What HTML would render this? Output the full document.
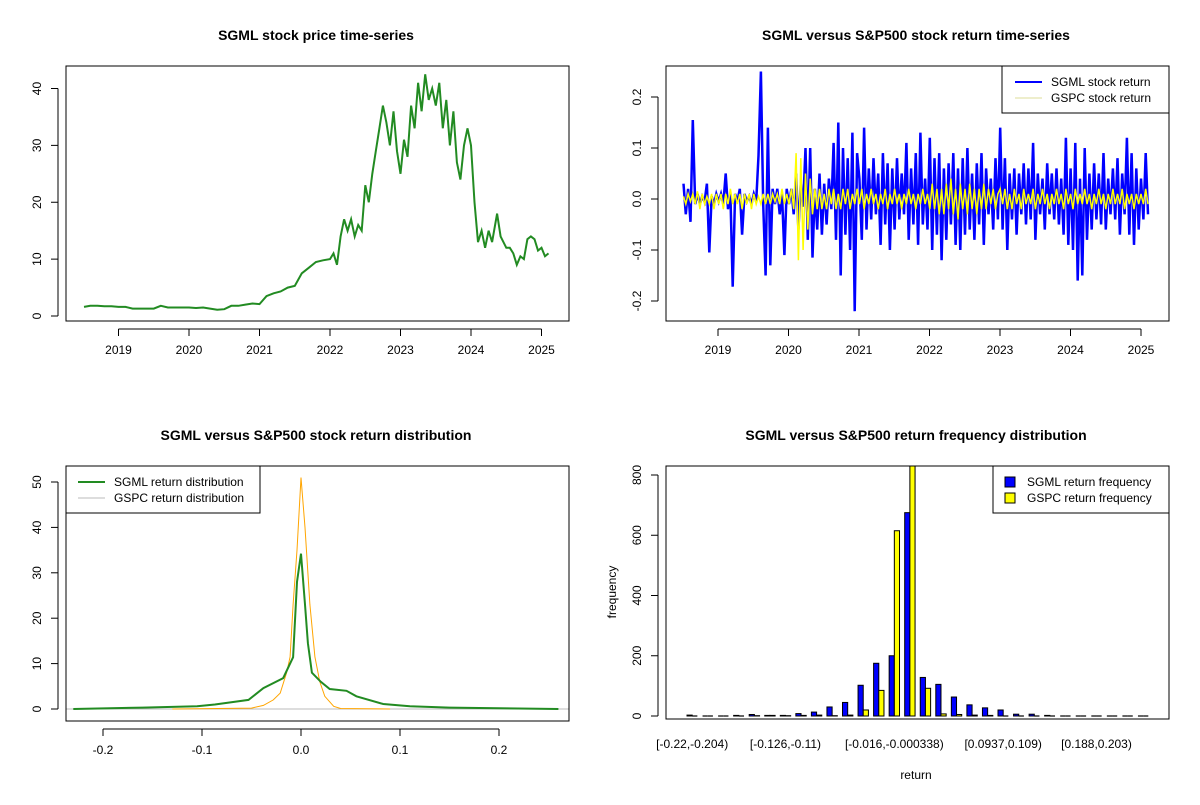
<!DOCTYPE html>
<html><head><meta charset="utf-8"><style>
body{margin:0;background:#fff}
svg{font-family:"Liberation Sans",Arial,sans-serif}
.t{font-weight:bold;font-size:14px;text-anchor:middle}
.k{font-size:12px}
</style></head><body>
<svg id="s" width="1200" height="800" viewBox="0 0 1200 800" xmlns="http://www.w3.org/2000/svg"></svg>
<script>
// ---- Data ----
const priceDates=[2018.51,2018.6,2018.7,2018.8,2018.9,2019.0,2019.1,2019.2,2019.3,2019.4,2019.5,2019.6,2019.7,2019.8,2019.9,2020.0,2020.1,2020.2,2020.3,2020.4,2020.5,2020.6,2020.7,2020.8,2020.9,2021.0,2021.1,2021.2,2021.3,2021.4,2021.5,2021.6,2021.7,2021.8,2021.9,2022.0,2022.05,2022.1,2022.15,2022.2,2022.25,2022.3,2022.35,2022.4,2022.45,2022.5,2022.55,2022.6,2022.65,2022.7,2022.75,2022.8,2022.85,2022.9,2022.95,2023.0,2023.05,2023.1,2023.15,2023.2,2023.25,2023.3,2023.35,2023.4,2023.45,2023.5,2023.55,2023.6,2023.65,2023.7,2023.75,2023.8,2023.85,2023.9,2023.95,2024.0,2024.05,2024.1,2024.15,2024.2,2024.25,2024.3,2024.37,2024.42,2024.5,2024.55,2024.6,2024.65,2024.7,2024.75,2024.8,2024.85,2024.9,2024.95,2025.0,2025.05,2025.1];
const priceVals=[1.6,1.8,1.8,1.7,1.7,1.6,1.6,1.3,1.3,1.3,1.3,1.8,1.5,1.5,1.5,1.5,1.4,1.5,1.3,1.1,1.2,1.8,1.8,2.0,2.2,2.1,3.5,4.0,4.3,5.0,5.3,7.5,8.5,9.5,9.8,10,11,9,14,17,15,17,14,16,15,23,20,25,29,33,37,34,30,36,29,25,31,28,37,33,41,36,42.5,38,40,37,41,33,38,30,36,27,24,30,33,30,20,13,15,12,15,13,18,14,12,12,11,9,10.5,10,13.5,14,13.5,11.5,12,10.5,11];
const retSGML=[0.03,-0.03,0.02,-0.045,0.155,-0.01,0.01,-0.01,0.005,-0.005,0.03,-0.105,0.005,-0.01,0.01,
-0.005,0.01,-0.01,0.05,-0.02,0.01,-0.172,0.01,-0.005,0.02,-0.07,0.01,-0.005,0.005,-0.01,0.01,-0.005,0.085,0.25,-0.01,-0.15,0.14,-0.13,0.02,-0.01,0.02,-0.03,0.01,-0.11,0.02,
-0.01,0.02,-0.03,0.05,-0.06,0.03,-0.015,0.1,-0.08,0.1,-0.115,0.02,-0.06,0.05,-0.07,0.03,-0.05,0.04,-0.02,0.11,-0.08,0.15,-0.15,0.1,-0.07,0.08,-0.1,0.13,-0.22,0.09,
0.04,-0.08,0.14,-0.06,0.06,-0.04,0.08,-0.03,0.05,-0.09,0.09,-0.05,0.07,-0.1,0.06,-0.06,0.08,-0.04,0.05,-0.03,0.11,-0.08,0.06,-0.05,0.09,-0.09,0.13,-0.05,0.04,-0.06,
0.12,-0.1,0.08,-0.07,0.09,-0.12,0.06,-0.08,0.07,-0.05,0.09,-0.09,0.06,-0.1,0.08,-0.07,0.1,-0.06,0.05,-0.08,0.07,-0.05,0.09,-0.09,0.06,-0.03,0.04,-0.06,0.08,-0.04,
0.14,-0.06,0.08,-0.1,0.05,-0.04,0.06,-0.07,0.05,-0.03,0.07,-0.05,0.06,-0.04,0.11,-0.08,0.05,-0.03,0.04,-0.06,0.07,-0.03,0.05,-0.04,0.06,-0.05,0.04,-0.07,0.12,-0.09,
0.06,-0.1,0.11,-0.16,0.04,-0.15,0.1,-0.08,0.05,-0.06,0.07,-0.04,0.05,-0.05,0.09,-0.06,0.04,-0.03,0.06,-0.04,0.08,-0.07,0.05,-0.03,0.12,-0.07,0.09,-0.09,0.06,-0.06,
0.04,-0.04,0.09,-0.03];
const retGSPC=[0.005,-0.01,0.01,-0.005,0.01,-0.01,0.015,-0.02,0.01,-0.01,0.005,-0.01,0.01,-0.02,0.01,
-0.01,0.01,-0.02,0.01,-0.01,0.02,-0.01,0.01,-0.01,0.01,-0.02,0.01,-0.01,0.01,-0.02,0.01,-0.01,0.005,-0.01,0.01,-0.01,0.01,-0.01,0.01,-0.005,0.01,-0.01,0.02,-0.01,0.01,
-0.01,0.02,-0.02,0.09,-0.12,0.08,-0.1,0.05,-0.06,0.04,-0.03,0.02,-0.02,0.02,-0.02,0.01,-0.02,0.02,-0.01,0.02,-0.02,0.01,-0.02,0.02,-0.01,0.02,-0.02,0.01,-0.01,0.02,
-0.01,0.02,-0.02,0.01,-0.01,0.02,-0.01,0.01,-0.02,0.01,-0.01,0.02,-0.02,0.01,-0.01,0.02,-0.01,0.01,-0.02,0.01,-0.01,0.02,-0.01,0.01,-0.02,0.01,-0.01,0.02,-0.01,0.01,
-0.02,0.03,-0.02,0.02,-0.03,0.02,-0.03,0.03,-0.02,0.04,-0.03,0.02,-0.04,0.03,-0.02,0.02,-0.03,0.03,-0.02,0.02,-0.03,0.02,-0.02,0.03,-0.02,0.02,-0.01,0.02,-0.02,0.01,
0.02,-0.01,0.02,-0.02,0.01,-0.02,0.02,-0.01,0.01,-0.02,0.02,-0.01,0.01,-0.01,0.02,-0.02,0.01,-0.01,0.02,-0.01,0.01,-0.02,0.01,-0.01,0.02,-0.01,0.01,-0.02,0.02,-0.01,
0.01,-0.02,0.02,-0.01,0.01,-0.01,0.02,-0.01,0.01,-0.02,0.01,-0.01,0.02,-0.01,0.01,-0.02,0.01,-0.01,0.02,-0.01,0.01,-0.01,0.02,-0.02,0.01,-0.01,0.01,-0.02,0.01,-0.01,
0.01,-0.01,0.02,-0.01];
const densX=[-0.23,-0.16,-0.105,-0.087,-0.053,-0.038,-0.018,-0.008,-0.004,0,0.004,0.007,0.011,0.02,0.029,0.046,0.056,0.083,0.11,0.15,0.26];
const densSGML=[0,0.3,0.6,1,2,4.6,6.8,11.4,28,34.2,23,14.5,8,6,4.4,4,2.8,1.1,0.6,0.3,0];
const densX2=[-0.13,-0.05,-0.038,-0.028,-0.021,-0.0145,-0.011,-0.008,-0.004,0,0.004,0.009,0.014,0.019,0.024,0.033,0.04,0.09];
const densGSPC=[0,0.2,0.8,2,3.5,8,11.5,23,35,51,40,23,11.5,6,2.8,0.6,0.1,0];
const binLabels=["[-0.22,-0.204)","[-0.126,-0.11)","[-0.016,-0.000338)","[0.0937,0.109)","[0.188,0.203)"];
const binLabelIdx=[0,6,13,20,26];
const freqSGML=[3,0,0,2,5,2,2,8,13,30,45,102,175,200,675,128,105,63,37,27,20,6,6,2,0,0,0,0,0,0];
const freqGSPC=[0,0,0,0,1,2,1,2,3,1,3,20,85,615,900,92,7,5,3,2,0,0,0,0,0,0,0,0,0,0];

// ---- Helpers ----
const svg=document.getElementById('s');
const NS='http://www.w3.org/2000/svg';
function el(tag,attrs,parent){const e=document.createElementNS(NS,tag);for(const k in attrs)e.setAttribute(k,attrs[k]);(parent||svg).appendChild(e);return e;}
function txt(x,y,s,attrs,parent){const e=el('text',Object.assign({x:x,y:y},attrs||{}),parent);e.textContent=s;return e;}
function lin(d0,d1,r0,r1){return v=>r0+(v-d0)*(r1-r0)/(d1-d0);}
function frame(g,x0,y0,x1,y1){const r=el('rect',{x:x0,y:y0,width:x1-x0,height:y1-y0,fill:'none',stroke:'#000','stroke-width':1},g);}
function yaxis(g,ticks,sy,xL,y0,y1,fmt){
  const a=el('g',{},g);
  el('line',{x1:xL,x2:xL,y1:sy(ticks[0]),y2:sy(ticks[ticks.length-1]),stroke:'#000'},a);
  ticks.forEach(t=>{const y=sy(t);el('line',{x1:xL,x2:xL-7,y1:y,y2:y,stroke:'#000'},a);
    const l=txt(xL-17,y,fmt(t),{'class':'k','text-anchor':'middle',transform:`rotate(-90 ${xL-17} ${y})`},a);
    });
}
function xaxis(g,ticks,sx,yB,fmt){
  const a=el('g',{},g);
  el('line',{x1:sx(ticks[0]),x2:sx(ticks[ticks.length-1]),y1:yB,y2:yB,stroke:'#000'},a);
  ticks.forEach(t=>{const x=sx(t);el('line',{x1:x,x2:x,y1:yB,y2:yB+7,stroke:'#000'},a);
    const l=txt(x,yB+25,fmt(t),{'class':'k','text-anchor':'middle'},a);
    });
}
function pathFrom(xs,ys,sx,sy){return xs.map((x,i)=>(i?'L':'M')+sx(x).toFixed(1)+','+sy(ys[i]).toFixed(1)).join('');}
const fmtN=t=>String(t);

// ---- Panel 1: price ----
{
const g=el('g',{});
const sx=lin(2019,2025,118.5,541.5), sy=lin(0,40,316,88.5);
const t=txt(316,40,'SGML stock price time-series',{'class':'t'},g);
const p=el('path',{d:pathFrom(priceDates,priceVals,sx,sy),fill:'none',stroke:'#228b22','stroke-width':2},g);

frame(g,66,66,569,321);
yaxis(g,[0,10,20,30,40],sy,58,0,0,fmtN);
xaxis(g,[2019,2020,2021,2022,2023,2024,2025],sx,329,fmtN);
}
// ---- Panel 2: returns ----
{
const g=el('g',{});
const sx=lin(2019,2025,718,1141), sy=lin(0,0.1,199,148);
const t=txt(916,40,'SGML versus S&P500 stock return time-series',{'class':'t'},g);
const t0=2018.51,t1=2025.1;
const d1=retSGML.map((v,i)=>t0+i*(t1-t0)/(retSGML.length-1));
const d2=retGSPC.map((v,i)=>t0+i*(t1-t0)/(retGSPC.length-1));
const p=el('path',{d:pathFrom(d1,retSGML,sx,sy),fill:'none',stroke:'#0000ff','stroke-width':2.5},g);

const q=el('path',{d:pathFrom(d2,retGSPC,sx,sy),fill:'none',stroke:'#ffff00','stroke-width':1.5},g);

frame(g,666,66,1169,321);
yaxis(g,[-0.2,-0.1,0,0.1,0.2],sy,658,0,0,v=>v===0?'0.0':String(v));
xaxis(g,[2019,2020,2021,2022,2023,2024,2025],sx,329,fmtN);
const lg=el('g',{},g);
el('rect',{x:1002,y:66,width:167,height:47,fill:'#fff',stroke:'#000'},lg);
el('line',{x1:1015,x2:1042,y1:82,y2:82,stroke:'#0000ff','stroke-width':2},lg);
el('line',{x1:1015,x2:1042,y1:98,y2:98,stroke:'#dddd99','stroke-width':1},lg);
txt(1051,86,'SGML stock return',{'class':'k'},lg);txt(1051,102,'GSPC stock return',{'class':'k'},lg);
}
// ---- Panel 3: density ----
{
const g=el('g',{});
const sx=lin(0,0.1,301,400), sy=lin(0,50,709,482);
const t=txt(316,440,'SGML versus S&P500 stock return distribution',{'class':'t'},g);
el('line',{x1:66,x2:569,y1:sy(0),y2:sy(0),stroke:'#bbb'},g);
const q=el('path',{d:pathFrom(densX2,densGSPC,sx,sy),fill:'none',stroke:'#ffa500','stroke-width':1},g);

const p=el('path',{d:pathFrom(densX,densSGML,sx,sy),fill:'none',stroke:'#228b22','stroke-width':2},g);

frame(g,66,466,569,721);
yaxis(g,[0,10,20,30,40,50],sy,58,0,0,fmtN);
xaxis(g,[-0.2,-0.1,0,0.1,0.2],sx,729,v=>v===0?'0.0':String(v));
const lg=el('g',{},g);
el('rect',{x:66,y:466,width:194,height:47,fill:'#fff',stroke:'#000'},lg);
el('line',{x1:78,x2:105,y1:482,y2:482,stroke:'#228b22','stroke-width':2},lg);
el('line',{x1:78,x2:105,y1:498,y2:498,stroke:'#bbb','stroke-width':1},lg);
txt(114,486,'SGML return distribution',{'class':'k'},lg);txt(114,502,'GSPC return distribution',{'class':'k'},lg);
}
// ---- Panel 4: histogram ----
{
const g=el('g',{});
const sy=lin(0,800,716,475);
const gw=15.55, bw=gw/3, x0=687;
const gx=i=>x0+i*gw;
const t=txt(916,440,'SGML versus S&P500 return frequency distribution',{'class':'t'},g);
const cp=el('clipPath',{id:'hc'},g);el('rect',{x:666,y:466,width:503,height:255},cp);
const bars=el('g',{'clip-path':'url(#hc)'},g);
function bar(v,x,fill,name){
  const y=sy(v);
  if(v<=0){const l=el('line',{x1:x,x2:x+bw,y1:sy(0),y2:sy(0),stroke:'#000','stroke-width':1.2},bars);
    return;}
  const r=el('rect',{x:x,y:y,width:bw,height:sy(0)-y,fill:fill,stroke:'#000','stroke-width':1},bars);
  
}
freqSGML.forEach((v,i)=>bar(v,gx(i),'#0000ff','bar-sgml'));
freqGSPC.forEach((v,i)=>bar(v,gx(i)+bw,'#ffff00','bar-gspc'));
frame(g,666,466,1169,719);
yaxis(g,[0,200,400,600,800],sy,658,0,0,fmtN);
binLabels.forEach((s,k)=>{const l=txt(gx(binLabelIdx[k])+bw,748,s,{'class':'k','text-anchor':'middle'},g);});
const xt=txt(916,779,'return',{'class':'k','text-anchor':'middle','font-size':'11px'},g);
const yt=txt(616,592,'frequency',{'class':'k','text-anchor':'middle','font-size':'11px',transform:'rotate(-90 616 592)'},g);
const lg=el('g',{},g);
el('rect',{x:993,y:466,width:176,height:47,fill:'#fff',stroke:'#000'},lg);
el('rect',{x:1005,y:477,width:10,height:10,fill:'#0000ff',stroke:'#000'},lg);
el('rect',{x:1005,y:493,width:10,height:10,fill:'#ffff00',stroke:'#000'},lg);
txt(1027,486,'SGML return frequency',{'class':'k'},lg);txt(1027,502,'GSPC return frequency',{'class':'k'},lg);
}
</script>
</body></html>
